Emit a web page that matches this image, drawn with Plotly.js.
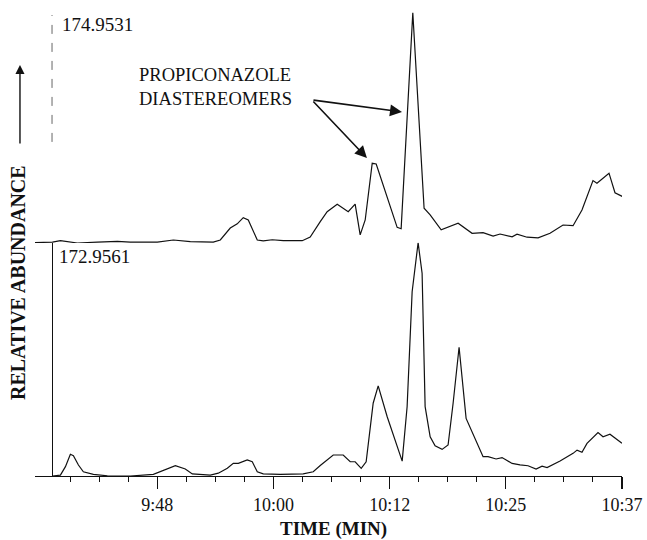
<!DOCTYPE html>
<html>
<head>
<meta charset="utf-8">
<script src="https://cdn.plot.ly/plotly-3.0.1.min.js"></script>
<style>html,body{margin:0;padding:0;background:#fff;}#chart{width:647px;height:540px;}</style>
</head>
<body>
<div id="chart"></div>
<script>
// Time axis in minutes after midnight (9:48 = 588 min)
var tickVals = [588, 600.25, 612.5, 624.75, 637];
var tickLabels = ["9:48", "10:00", "10:12", "10:25", "10:37"];
var minorTickVals = [578.81, 581.88, 584.94, 591.06, 594.13, 597.19, 603.31, 606.38, 609.44,
  615.56, 618.63, 621.69, 627.81, 630.88, 633.94];

// Upper chromatogram: m/z 174.9531 (relative abundance, %)
var upperTime = [574.93, 576.94, 577.78, 578.62, 579.57, 581.68, 583.79, 585.15, 588.00, 589.69,
  591.48, 593.90, 594.64, 595.69, 596.43, 597.06, 597.59, 598.54, 599.17, 600.12,
  601.28, 603.28, 604.12, 605.18, 605.91, 606.97, 608.13, 608.86, 609.39, 609.92,
  610.66, 611.08, 612.24, 613.29, 613.71, 614.94, 616.13, 616.77, 617.93, 619.72,
  621.19, 622.35, 623.41, 624.14, 625.41, 625.93, 626.99, 628.15, 629.41, 630.78,
  631.84, 632.78, 633.94, 634.36, 635.63, 636.26, 637.10];
var upperAbund = [0.1, 0.4, 1.0, 0.6, 0.0, 0.4, 0.7, 0.4, 0.4, 1.3,
  0.6, 0.4, 1.3, 6.5, 8.3, 11.0, 10.0, 1.3, 0.9, 1.4,
  1.0, 1.0, 2.6, 9.3, 13.6, 16.8, 13.6, 16.9, 3.5, 10.0,
  34.6, 34.3, 20.1, 6.8, 6.2, 100, 15.1, 12.2, 5.7, 8.6,
  4.2, 4.5, 3.0, 3.9, 2.7, 3.8, 2.5, 2.2, 4.2, 7.8,
  7.5, 14.3, 27.1, 25.9, 30.3, 21.8, 20.1];

// Lower chromatogram: m/z 172.9561 (relative abundance, %)
var lowerTime = [576.94, 577.78, 578.31, 578.83, 579.15, 579.68, 580.20, 581.26, 582.73, 585.15,
  587.58, 588.63, 589.90, 590.95, 591.69, 593.58, 594.43, 595.38, 596.01, 596.54,
  597.48, 598.01, 598.54, 599.17, 600.96, 603.38, 604.44, 605.18, 606.55, 607.60,
  608.34, 608.86, 609.50, 610.02, 610.76, 611.29, 612.24, 613.82, 614.34, 614.87,
  615.50, 615.92, 616.24, 616.77, 617.29, 618.03, 618.66, 619.19, 619.82, 620.56,
  621.19, 622.35, 622.88, 623.72, 624.35, 625.41, 626.25, 627.09, 627.94, 628.57,
  629.10, 630.47, 631.84, 632.26, 632.78, 633.31, 634.47, 635.00, 635.73, 637.00];
var lowerAbund = [0.0, 0.4, 4.0, 9.3, 8.7, 4.7, 1.8, 0.7, 0.1, 0.0,
  0.7, 2.3, 4.4, 3.0, 0.9, 0.4, 1.2, 3.3, 5.4, 5.4,
  6.9, 6.1, 1.8, 0.9, 0.7, 0.9, 1.8, 4.5, 9.0, 9.0,
  6.1, 6.1, 3.3, 6.1, 31.2, 38.6, 25.4, 6.4, 29.7, 79.0,
  100, 86.9, 29.7, 16.8, 12.9, 11.4, 13.3, 31.2, 55.2, 24.7,
  19.0, 8.3, 8.3, 7.3, 7.9, 5.4, 4.8, 4.4, 3.0, 4.2,
  3.6, 6.4, 9.7, 11.1, 10.2, 14.0, 18.6, 16.8, 17.9, 14.0];

var upperLabel = "174.9531";
var lowerLabel = "172.9561";
var noteLines = ["PROPICONAZOLE", "DIASTEREOMERS"];
var yTitle = "RELATIVE ABUNDANCE";
var xTitle = "TIME (MIN)";

var serif = "Liberation Serif, Times New Roman, serif";
var lineStyle = {color: "#111", width: 1.2, shape: "linear"};

var traces = [
  {x: lowerTime, y: lowerAbund, type: "scatter", mode: "lines", line: lineStyle, xaxis: "x", yaxis: "y", hoverinfo: "skip"},
  {x: upperTime, y: upperAbund, type: "scatter", mode: "lines", line: lineStyle, xaxis: "x", yaxis: "y2", hoverinfo: "skip"}
];

var layout = {
  width: 647, height: 540,
  margin: {l: 35, r: 25, t: 12, b: 64},
  paper_bgcolor: "#fff", plot_bgcolor: "rgba(0,0,0,0)",
  showlegend: false,
  font: {family: serif, size: 18, color: "#111"},
  xaxis: {
    range: [575.1, 637], anchor: "y",
    showline: true, linecolor: "#111", linewidth: 1.3,
    showgrid: false, zeroline: false,
    tickmode: "array", tickvals: tickVals, ticktext: tickLabels,
    ticks: "outside", ticklen: 12, tickwidth: 1.2, tickcolor: "#111",
    tickfont: {family: serif, size: 18, color: "#111"},
    minor: {tickmode: "array", tickvals: minorTickVals, ticks: "outside", ticklen: 5, tickwidth: 1, tickcolor: "#111", showgrid: false}
  },
  yaxis: {
    domain: [0, 0.5028], range: [0, 100],
    anchor: "free", position: 0.029,
    showline: true, linecolor: "#111", linewidth: 1.2,
    showgrid: false, zeroline: false, showticklabels: false, ticks: ""
  },
  yaxis2: {
    domain: [0.5022, 1], range: [0, 100.3],
    anchor: "free", position: 0.029,
    showline: false, showgrid: false, zeroline: false, showticklabels: false, ticks: ""
  },
  shapes: [
    {type: "line", xref: "paper", yref: "paper", x0: 0.029, x1: 0.029, y0: 0.72, y1: 0.9935,
     line: {color: "#666", width: 1, dash: "dash"}}
  ],
  annotations: [
    {xref: "paper", yref: "paper", x: 0.042, y: 0.974, xanchor: "left", yanchor: "middle",
     text: upperLabel, showarrow: false, font: {family: serif, size: 19, color: "#111"}},
    {xref: "paper", yref: "paper", x: 0.037, y: 0.474, xanchor: "left", yanchor: "middle",
     text: lowerLabel, showarrow: false, font: {family: serif, size: 19, color: "#111"}},
    {xref: "paper", yref: "paper", x: 0.173, y: 0.838, xanchor: "left", yanchor: "middle", align: "left",
     text: noteLines.join("<br>"), showarrow: false, font: {family: serif, size: 18.5, color: "#111"}},
    {xref: "x", yref: "y2", x: 613.8, y: 56.9, ax: -90, ay: -12, axref: "pixel", ayref: "pixel",
     text: "", showarrow: true, arrowhead: 2, arrowsize: 1.5, arrowwidth: 1.6, arrowcolor: "#111"},
    {xref: "x", yref: "y2", x: 610.1, y: 36.9, ax: -55, ay: -58, axref: "pixel", ayref: "pixel",
     text: "", showarrow: true, arrowhead: 2, arrowsize: 1.5, arrowwidth: 1.6, arrowcolor: "#111"},
    {xref: "paper", yref: "paper", x: -0.0256, y: 0.886, ax: 0, ay: 80, axref: "pixel", ayref: "pixel",
     text: "", showarrow: true, arrowhead: 2, arrowsize: 1.3, arrowwidth: 1.4, arrowcolor: "#111"},
    {xref: "paper", yref: "paper", x: -0.029, y: 0.418, xanchor: "center", yanchor: "middle",
     text: "<b>" + yTitle + "</b>", textangle: -90, showarrow: false,
     font: {family: serif, size: 20, color: "#111"}},
    {xref: "paper", yref: "paper", x: 0.508, y: -0.114, xanchor: "center", yanchor: "middle",
     text: "<b>" + xTitle + "</b>", showarrow: false,
     font: {family: serif, size: 19, color: "#111"}}
  ]
};

Plotly.newPlot("chart", traces, layout, {displayModeBar: false, staticPlot: true});
</script>
</body>
</html>
